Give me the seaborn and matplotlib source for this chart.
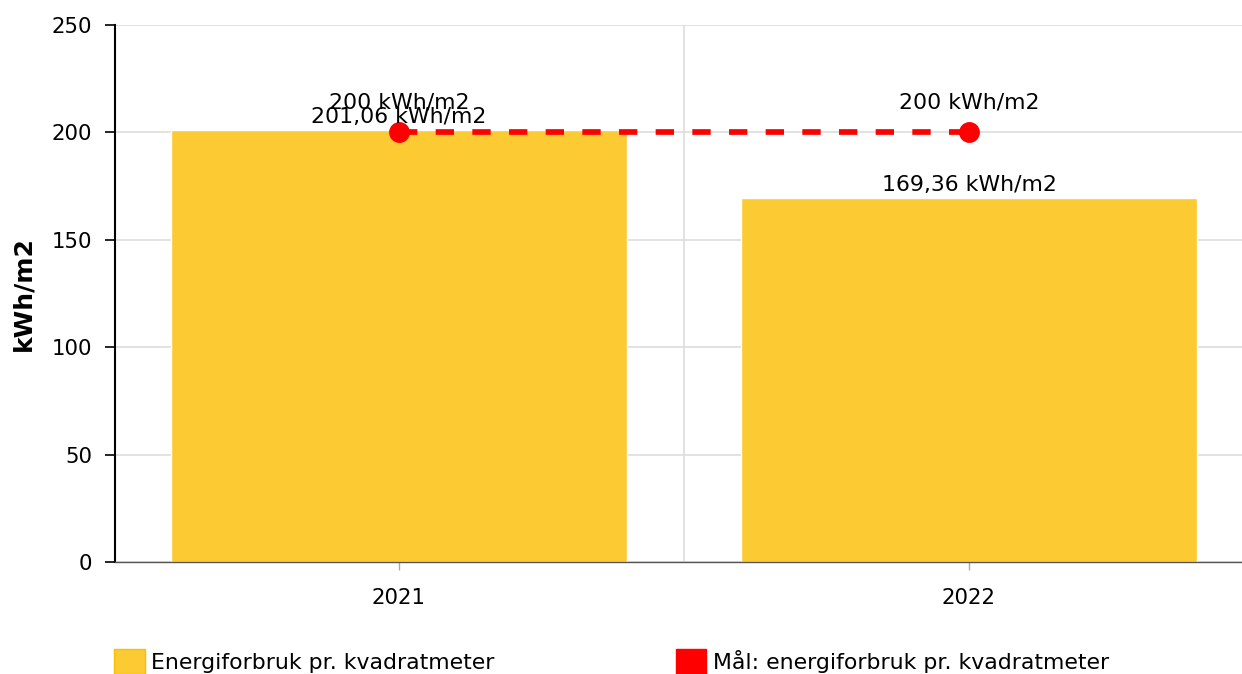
import matplotlib
matplotlib.use("Agg")
import matplotlib.pyplot as plt
import seaborn as sns
import pandas as pd
from matplotlib.patches import Patch

years = ["2021", "2022"]
energy = [201.06, 169.36]
target = [200, 200]
energy_labels = ["201,06 kWh/m2", "169,36 kWh/m2"]
target_labels = ["200 kWh/m2", "200 kWh/m2"]
series_names = ["Energiforbruk pr. kvadratmeter", "Mål: energiforbruk pr. kvadratmeter"]
y_ticks = [0, 50, 100, 150, 200, 250]

sns.set_theme(style="white")
plt.rcParams['font.family'] = ['DejaVu Sans']
plt.rcParams['lines.scale_dashes'] = False
plt.rcParams['text.color'] = 'black'

bar_color = "#FCCA33"
line_color = "#FF0000"
fs_tick = 15.3
fs_lab = 15.8

df = pd.DataFrame({"year": years, "energy": energy, "target": target})

fig = plt.figure(figsize=(12.42, 6.74), dpi=100)
ax = fig.add_axes([115/1242, 1-562/674, 1-115/1242, (562-25)/674])

sns.barplot(data=df, x="year", y="energy", order=years, color=bar_color,
            saturation=1, width=0.8, ax=ax, zorder=2)
sns.pointplot(data=df, x="year", y="target", order=years, color=line_color,
              linestyles="--", markers="o", ax=ax)
for ln in ax.lines:
    ln.set_linewidth(4.1)
    ln.set_dashes((13.2, 13.2))
    ln.set_markersize(13)
    ln.set_zorder(4)
    ln.set_dash_capstyle("butt")

ax.set_ylim(0, 250)
ax.set_xlim(-0.498, 1.479)
ax.set_yticks(y_ticks)
ax.yaxis.grid(True, color="#DDDDDD", linewidth=1.2, zorder=0)
ax.axvline(0.5, color="#DDDDDD", linewidth=1.2, zorder=0)
ax.set_axisbelow(True)

for s in ["top", "right"]:
    ax.spines[s].set_visible(False)
ax.spines["left"].set_color("black")
ax.spines["left"].set_linewidth(1.5)
ax.spines["bottom"].set_color("#555555")
ax.spines["bottom"].set_linewidth(1.0)

ax.tick_params(axis="y", which="both", left=True, length=7.5, width=1.2,
               color="black", labelsize=fs_tick, pad=9, labelcolor="black")
ax.tick_params(axis="x", which="both", bottom=True, length=6, width=1.0,
               color="#AAAAAA", labelsize=fs_tick, pad=13, labelcolor="black")

ax.set_xlabel("")
ax.set_ylabel("kWh/m2", fontsize=18, fontweight="bold", labelpad=12, color="black")

for i, (v, lab) in enumerate(zip(energy, energy_labels)):
    ax.annotate(lab, (i, v), xytext=(0, 2), textcoords="offset points",
                ha="center", va="bottom", fontsize=fs_lab, color="black", zorder=5)
for i, (v, lab) in enumerate(zip(target, target_labels)):
    ax.annotate(lab, (i, v), xytext=(0, 14), textcoords="offset points",
                ha="center", va="bottom", fontsize=fs_lab, color="black", zorder=5)

handles = [Patch(facecolor=bar_color, edgecolor="#F5C000", label=series_names[0]),
           Patch(facecolor=line_color, edgecolor=line_color, label=series_names[1])]
leg = fig.legend(handles=handles, loc="upper left", bbox_to_anchor=(114/1242, 1-649/674),
                 ncol=2, frameon=False, fontsize=fs_lab, handlelength=1.4, handleheight=1.4,
                 handletextpad=0.3, columnspacing=8.25, borderaxespad=0, borderpad=0)
for t in leg.get_texts():
    t.set_color("black")

fig.savefig("out.png", dpi=100)
